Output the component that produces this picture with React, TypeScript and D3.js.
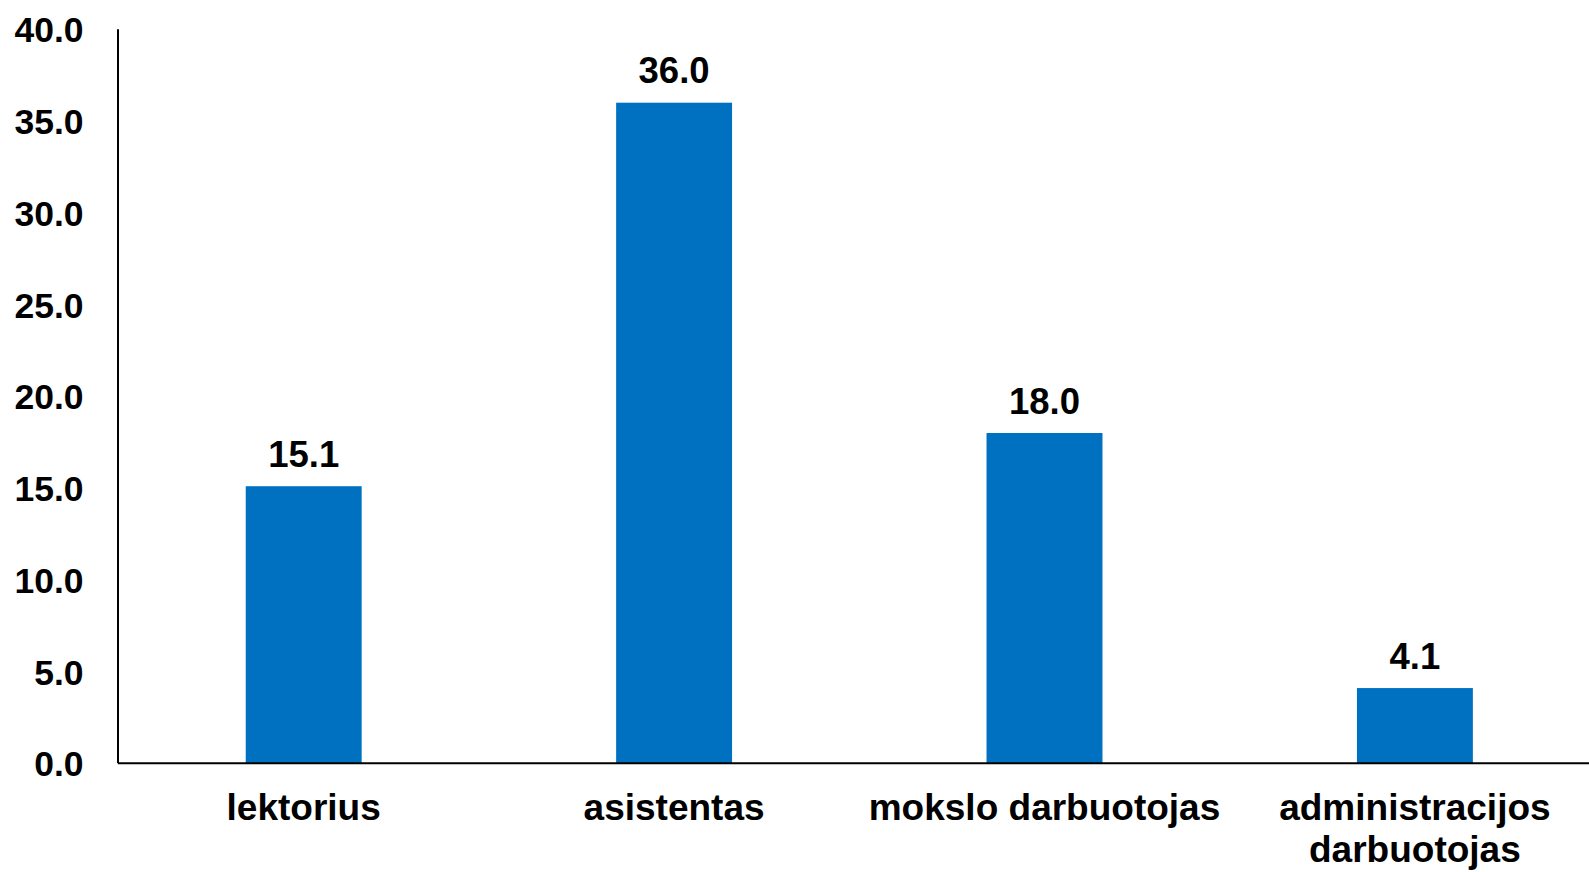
import React from "react";
import * as d3 from "d3";

const categories: string[][] = [
  ["lektorius"],
  ["asistentas"],
  ["mokslo darbuotojas"],
  ["administracijos", "darbuotojas"],
];
const values: number[] = [15.1, 36.0, 18.0, 4.1];
const yTicks: number[] = [0, 5, 10, 15, 20, 25, 30, 35, 40];

const W = 1589;
const H = 872;
const left = 118;
const bottom = 763.3;
const top = 29.3;
const FONT = "'Liberation Sans', Arial, sans-serif";

export default function App() {
  const keys = categories.map((c) => c.join(" "));
  const x = d3.scaleBand<string>().domain(keys).range([118.5, 118.5 + 4 * 370.4]).paddingInner(0.687).paddingOuter(0.3435);
  const y = d3.scaleLinear().domain([0, 40]).range([bottom, top]);
  return (
    <svg width={W} height={H} style={{ position: "absolute", left: 0, top: 0, background: "#fff" }}>
      {values.map((v, i) => (
        <rect key={i} x={x(keys[i])} y={y(v)} width={x.bandwidth()} height={y(0) - y(v)} fill="#0070C0" />
      ))}
      {values.map((v, i) => (
        <text key={"l" + i} x={(x(keys[i]) as number) + x.bandwidth() / 2} y={y(v) - 19.5} textAnchor="middle" fontFamily={FONT} fontWeight="bold" fontSize={36.5} fill="#000">
          {v.toFixed(1)}
        </text>
      ))}
      <line x1={left} x2={left} y1={top} y2={bottom} stroke="#000" strokeWidth={2} />
      <line x1={left} x2={W} y1={bottom} y2={bottom} stroke="#000" strokeWidth={2} />
      {yTicks.map((t) => (
        <text key={t} x={83.5} y={y(t) + 13} textAnchor="end" fontFamily={FONT} fontWeight="bold" fontSize={35.5} fill="#000">
          {t.toFixed(1)}
        </text>
      ))}
      {categories.map((lines, i) => (
        <text key={"c" + i} textAnchor="middle" fontFamily={FONT} fontWeight="bold" fontSize={37} fill="#000">
          {lines.map((ln, j) => (
            <tspan key={j} x={(x(keys[i]) as number) + x.bandwidth() / 2} y={bottom + 57 + j * 42}>
              {ln}
            </tspan>
          ))}
        </text>
      ))}
    </svg>
  );
}
